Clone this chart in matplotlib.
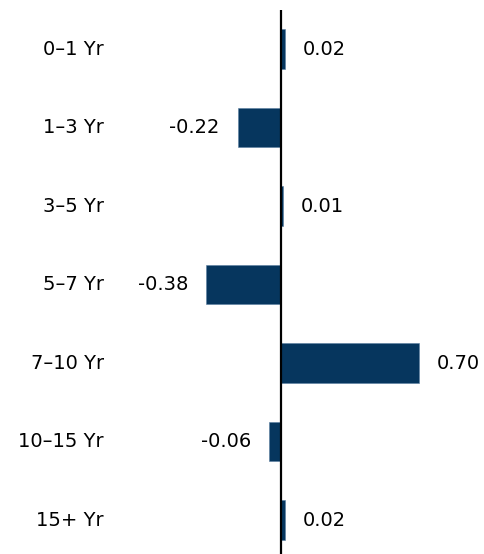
import matplotlib.pyplot as plt
import matplotlib.transforms as mtransforms

# data
categories = ['0\u20131 Yr', '1\u20133 Yr', '3\u20135 Yr', '5\u20137 Yr',
              '7\u201310 Yr', '10\u201315 Yr', '15+ Yr']
values = [0.02, -0.22, 0.01, -0.38, 0.70, -0.06, 0.02]

bar_color = '#06365E'
plt.rcParams['font.family'] = ['DejaVu Sans']

fig = plt.figure(figsize=(4.84, 5.54), dpi=100)
ax = fig.add_axes([0, 0, 1, 1])
ax.axis('off')

ypos = list(range(len(categories)))
ax.barh(ypos, values, height=0.5, color=bar_color, edgecolor='#5a7ea0', linewidth=0.4)

ax.set_xlim(-281 / 197, (484 - 281) / 197)
ax.set_ylim((554 - 49) / 78.5, -49 / 78.5)

# zero line
ax.vlines(0, -0.5, (554 - 49) / 78.5, color='black', lw=1.6)

# category labels
trans = mtransforms.blended_transform_factory(ax.transAxes, ax.transData)
for y, c in zip(ypos, categories):
    ax.text(104 / 484, y, c, transform=trans, ha='right', va='center', fontsize=14)

# value labels
for y, v in zip(ypos, values):
    off = 13 if v >= 0 else -13
    ax.annotate(f'{v:.2f}', xy=(v, y), xytext=(off, 0), textcoords='offset points',
                ha='left' if v >= 0 else 'right', va='center', fontsize=14)

fig.savefig('out.png', dpi=100, facecolor='white')
